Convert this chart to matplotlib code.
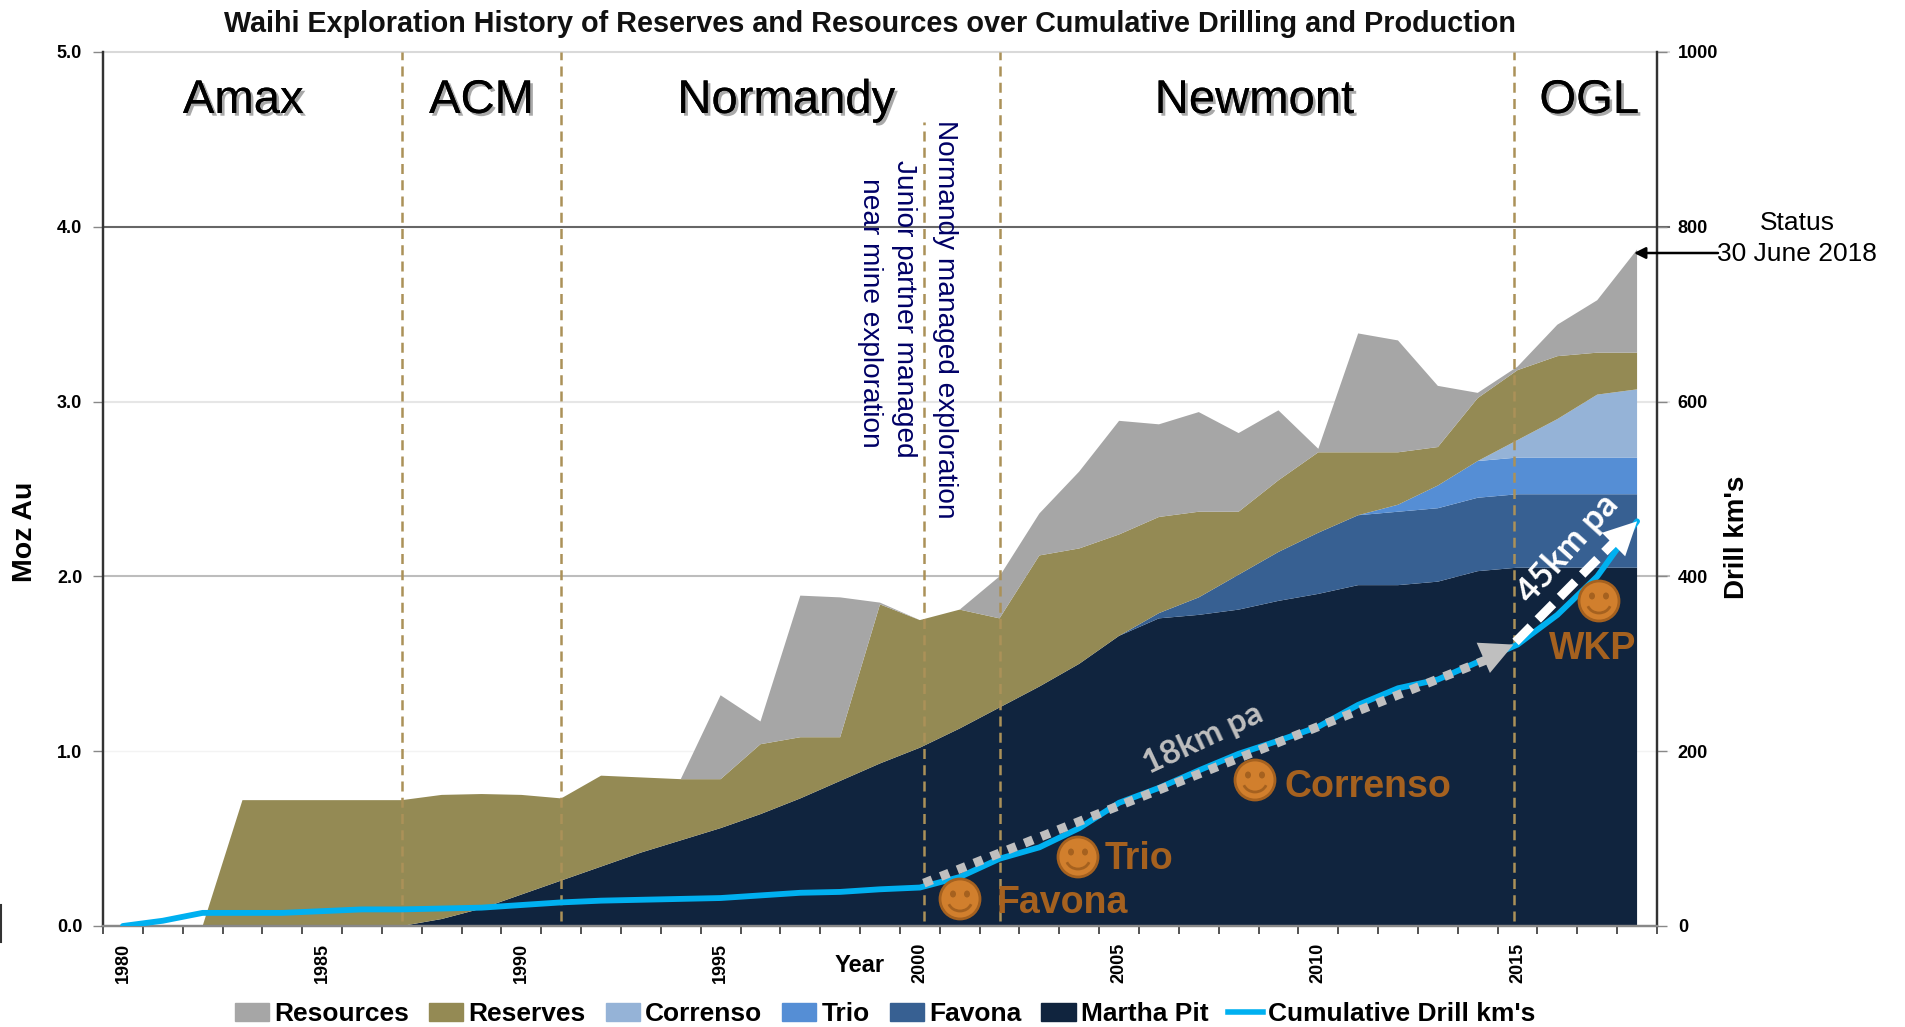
import numpy as np
import matplotlib
matplotlib.use('Agg')
import matplotlib.pyplot as plt
import matplotlib.patheffects as pe
from matplotlib.patches import Patch, Ellipse, Arc
from matplotlib.lines import Line2D

plt.rcParams['font.family'] = ['Liberation Sans', 'DejaVu Sans']

years = list(range(1980, 2019))

# top edge of each stacked band (Moz Au)
martha_top = [0, 0, 0, 0, 0, 0, 0, 0, 0.04, 0.10, 0.18, 0.26, 0.34, 0.42, 0.49, 0.56, 0.64, 0.73, 0.83, 0.93,
              1.02, 1.13, 1.25, 1.37, 1.50, 1.66, 1.76, 1.78, 1.81, 1.86, 1.90, 1.95, 1.95, 1.97, 2.03, 2.05,
              2.05, 2.05, 2.05]
favona_top = [0, 0, 0, 0, 0, 0, 0, 0, 0.04, 0.10, 0.18, 0.26, 0.34, 0.42, 0.49, 0.56, 0.64, 0.73, 0.83, 0.93,
              1.02, 1.13, 1.25, 1.37, 1.50, 1.66, 1.79, 1.88, 2.01, 2.14, 2.25, 2.35, 2.37, 2.39, 2.45, 2.47,
              2.47, 2.47, 2.47]
trio_top = [0, 0, 0, 0, 0, 0, 0, 0, 0.04, 0.10, 0.18, 0.26, 0.34, 0.42, 0.49, 0.56, 0.64, 0.73, 0.83, 0.93,
            1.02, 1.13, 1.25, 1.37, 1.50, 1.66, 1.79, 1.88, 2.01, 2.14, 2.25, 2.35, 2.41, 2.52, 2.66, 2.68,
            2.68, 2.68, 2.68]
correnso_top = [0, 0, 0, 0, 0, 0, 0, 0, 0.04, 0.10, 0.18, 0.26, 0.34, 0.42, 0.49, 0.56, 0.64, 0.73, 0.83, 0.93,
                1.02, 1.13, 1.25, 1.37, 1.50, 1.66, 1.79, 1.88, 2.01, 2.14, 2.25, 2.35, 2.41, 2.52, 2.66, 2.78,
                2.90, 3.04, 3.07]
reserves_top = [0, 0, 0, 0.72, 0.72, 0.72, 0.72, 0.72, 0.75, 0.755, 0.75, 0.73, 0.86, 0.85, 0.84, 0.84, 1.04, 1.08, 1.08, 1.84,
                1.75, 1.81, 1.76, 2.12, 2.16, 2.24, 2.34, 2.37, 2.37, 2.55, 2.71, 2.71, 2.71, 2.74, 3.02, 3.18,
                3.26, 3.28, 3.28]
resources_top = [0, 0, 0, 0.72, 0.72, 0.72, 0.72, 0.72, 0.75, 0.755, 0.75, 0.73, 0.86, 0.85, 0.84, 1.32, 1.17, 1.89, 1.88, 1.85,
                 1.75, 1.81, 2.00, 2.36, 2.60, 2.89, 2.87, 2.94, 2.82, 2.95, 2.73, 3.39, 3.35, 3.09, 3.05, 3.20,
                 3.44, 3.58, 3.87]
drill_km = [0, 6, 15, 15, 15, 17, 19, 19, 20, 21, 24, 27, 29, 30, 31, 32, 35, 38, 39, 42,
            44, 56, 77, 90, 112, 141, 158, 178, 197, 212, 228, 253, 272, 282, 302, 322,
            356, 400, 463]

band_names = ['Martha Pit', 'Favona', 'Trio', 'Correnso', 'Reserves', 'Resources']
legend_names = ['Resources', 'Reserves', 'Correnso', 'Trio', 'Favona', 'Martha Pit']
band_colors = ['#10243e', '#376092', '#558ed5', '#95b3d7', '#948a54', '#a6a6a6']

owner_names = ['Amax', 'ACM', 'Normandy', 'Newmont', 'OGL']
owner_x = [1983.02, 1989.0, 1996.65, 2008.4, 2016.8]
owner_breaks = [1987, 1991, 2002, 2014.9]

left_ticks = [0, 1, 2, 3, 4, 5]
right_ticks = [0, 200, 400, 600, 800, 1000]
year_labels = [1980, 1985, 1990, 1995, 2000, 2005, 2010, 2015]

W, H = 1905, 1027
fig = plt.figure(figsize=(W / 100, H / 100), dpi=100)
ax = fig.add_axes([103 / W, 1 - 926 / H, (1657 - 103) / W, (926 - 52) / H])
ax2 = ax.twinx()

# grid lines sit behind the areas, each one has its own grey in the original
for val, col, lw in [(1, '#f3f3f3', 1), (2, '#bdbdbd', 1.5), (3, '#e6e6e6', 1.5), (4, '#666666', 1.5), (5, '#d9d9d9', 1.5)]:
    ax.plot([1979.5, 2018.8], [val, val], color=col, lw=lw, zorder=1, clip_on=False)

tops = np.array([martha_top, favona_top, trio_top, correnso_top, reserves_top, resources_top])
bands = np.vstack([tops[0], np.diff(tops, axis=0)])
ax.stackplot(years, bands, colors=band_colors, labels=band_names, zorder=2, lw=0)

for x in owner_breaks:
    ax.plot([x, x], [0.03, 5], color='#ab9158', lw=1.8, ls=(0, (4, 2.5)), zorder=3)
ax.plot([2000.1, 2000.1], [0.03, 4.6], color='#ab9158', lw=1.8, ls=(0, (4, 2.5)), zorder=3)

ax.set_xlim(1979.5, 2018.5)
ax.set_ylim(0, 5)
ax2.set_ylim(0, 1000)
ax.set_yticks(left_ticks, ['%.1f' % v for v in left_ticks], fontsize=13, fontweight='bold')
ax2.set_yticks(right_ticks, [str(v) for v in right_ticks], fontsize=13, fontweight='bold')
ax.set_xticks(year_labels, [str(y) for y in year_labels], rotation=90, fontsize=13, fontweight='bold')
ax.set_xticks(np.arange(1979.5, 2019), minor=True)
ax.tick_params(axis='x', which='major', length=0, pad=12)
ax.tick_params(axis='x', which='minor', length=6, width=1.3, color='#444444')
ax.tick_params(axis='y', length=7, width=1, color='#888888', pad=8)
ax2.tick_params(axis='y', length=7, width=1, color='#888888', pad=8)
for a in [ax, ax2]:
    a.spines['top'].set_visible(False)
    a.spines['left'].set_linewidth(1.6)
    a.spines['right'].set_linewidth(1.6)
    a.spines['left'].set_color('#333333')
    a.spines['right'].set_color('#333333')
    a.spines['bottom'].set_color('#888888')
    a.spines['bottom'].set_linewidth(1.6)

ax2.plot(years, drill_km, color='#00b0f0', lw=4.2, zorder=4, solid_capstyle='round')

# growth rate arrows, in drill km
ax2.plot([2000.1, 2014.3], [49, 306], color='#bfbfbf', lw=6.5, ls=(0, (1, 1)), zorder=5)
ax2.annotate('', xy=(2014.9, 322), xytext=(2014.0, 304), zorder=6,
             arrowprops=dict(arrowstyle='-|>,head_length=1.4,head_width=0.7', mutation_scale=17, color='#bfbfbf', lw=0, shrinkA=0, shrinkB=0))
ax2.plot([2014.95, 2017.4], [325, 438], color='white', lw=6.5, ls=(0, (2.4, 1.1)), zorder=5)
ax2.annotate('', xy=(2018, 463), xytext=(2017.2, 427), zorder=6,
             arrowprops=dict(arrowstyle='-|>,head_length=1.4,head_width=0.7', mutation_scale=17, color='white', lw=0, shrinkA=0, shrinkB=0))

ax2.text(2007.1, 214, '18km pa', color='#bfbfbf', fontsize=24, fontweight='bold', family='Lato', rotation=25,
         ha='center', va='center', zorder=6)
ax2.text(2016.25, 432, '45km pa', color='white', fontsize=25, fontweight='bold', family='Lato', rotation=48,
         ha='center', va='center', zorder=6)

shadow = [pe.withSimplePatchShadow(offset=(2, -2), shadow_rgbFace='#555555', alpha=0.5), pe.Normal()]
for name, x in zip(owner_names, owner_x):
    t = ax2.text(x, 944, name, fontsize=34, ha='center', va='center', color='black', zorder=6)
    t.set_path_effects(shadow)

navy = '#000066'
ax.text(2000.64, 4.61, 'Normandy managed exploration', color=navy, fontsize=20.2, rotation=270, ha='center', va='top', zorder=6)
ax.text(1999.6, 4.38, 'Junior partner managed', color=navy, fontsize=20.2, rotation=270, ha='center', va='top', zorder=6)
ax.text(1998.75, 4.28, 'near mine exploration', color=navy, fontsize=20.2, rotation=270, ha='center', va='top', zorder=6)


def smiley(px, py):
    # px, py are figure pixels from the top left, r is fixed
    r = 20
    sx = 1 / W
    sy = 1 / H
    fig.add_artist(Ellipse((px * sx, 1 - py * sy), 2 * r * sx, 2 * r * sy, fc='#d17f2d', ec='#a5611f', lw=2,
                           transform=fig.transFigure, zorder=10))
    for dx in [-7, 7]:
        fig.add_artist(Ellipse(((px + dx) * sx, 1 - (py - 5) * sy), 6 * sx, 7 * sy, fc='#a5611f', ec='none',
                               transform=fig.transFigure, zorder=11))
    fig.add_artist(Arc((px * sx, 1 - (py + 1) * sy), 24 * sx, 22 * sy, theta1=215, theta2=325, color='#a5611f', lw=2,
                       transform=fig.transFigure, zorder=11))


brown = '#a5611f'
smiley(960, 899)
smiley(1078, 857)
smiley(1255, 780)
smiley(1599, 601)
for label, px, py in [('Favona', 997, 903), ('Trio', 1105, 859), ('Correnso', 1284, 787), ('WKP', 1549, 649)]:
    fig.text(px / W, 1 - py / H, label, color=brown, fontsize=27, fontweight='bold', ha='left', va='center', zorder=12)

fig.text(870 / W, 1 - 24 / H, 'Waihi Exploration History of Reserves and Resources over Cumulative Drilling and Production',
         fontsize=20.7, fontweight='bold', ha='center', va='center', color='#111111')
fig.text(860 / W, 1 - 966 / H, 'Year', fontsize=17, fontweight='bold', ha='center', va='center')
fig.text(25 / W, 1 - 532 / H, 'Moz Au', fontsize=20.5, fontweight='bold', rotation=90, ha='center', va='center')
fig.text(1737 / W, 1 - 537 / H, "Drill km's", fontsize=20, fontweight='bold', rotation=90, ha='center', va='center')
fig.text(1797 / W, 1 - 223 / H, 'Status', fontsize=19, ha='center', va='center')
fig.text(1797 / W, 1 - 254 / H, '30 June 2018', fontsize=19, ha='center', va='center')

ax2.annotate('', xy=(1634 / W, 1 - 253 / H), xytext=(1718 / W, 1 - 253 / H), xycoords='figure fraction',
             textcoords='figure fraction', arrowprops=dict(arrowstyle='-|>', mutation_scale=17, color='black', lw=1.8, shrinkA=0, shrinkB=0))

handles = [Patch(color=c) for c in band_colors[::-1]] + [Line2D([0], [0], color='#00b0f0', lw=4)]
fig.legend(handles, legend_names + ["Cumulative Drill km's"], loc='center', bbox_to_anchor=(885 / W, 1 - 1014 / H), ncol=7,
           frameon=False, prop={'size': 19, 'weight': 'bold'}, handlelength=1.3, handleheight=0.7, handletextpad=0.2,
           columnspacing=0.75, borderpad=0, borderaxespad=0)

# the stray mark at the left edge of the original
fig.add_artist(Line2D([1 / W, 1 / W], [1 - 905 / H, 1 - 942 / H], color='#333333', lw=1.5))

fig.savefig('out.png', dpi=100)
